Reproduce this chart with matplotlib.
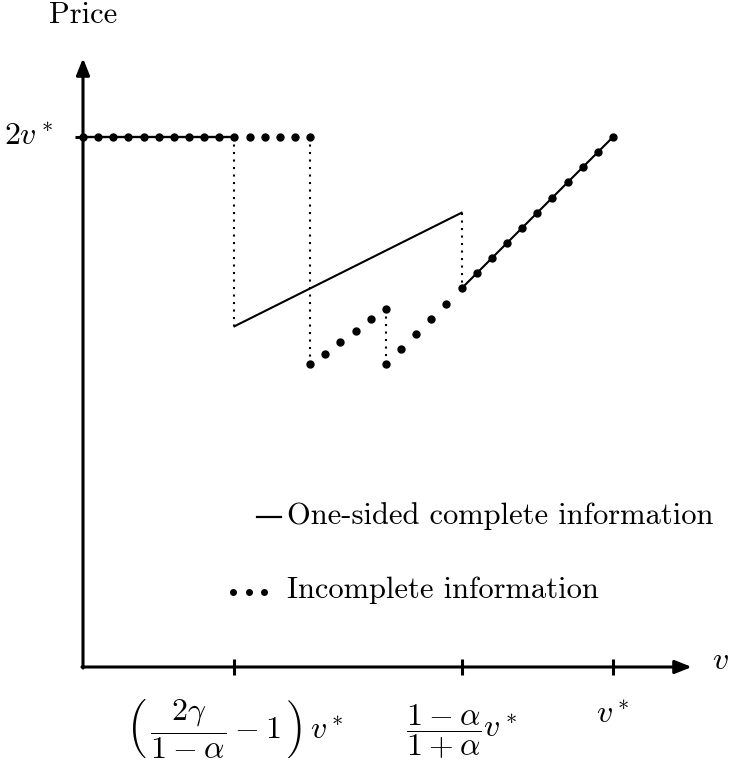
import matplotlib
matplotlib.use("Agg")
import matplotlib.pyplot as plt

plt.rcParams['font.family'] = ['serif']
plt.rcParams['font.serif'] = ['cmr10', 'DejaVu Serif']
plt.rcParams['mathtext.fontset'] = 'cm'
plt.rcParams['axes.unicode_minus'] = False

# grid units: v* = 35 steps, price 2v* = 35 steps
# incomplete information (dots)
inc_flat_x = [0, 1, 2, 3, 4, 5, 6, 7, 8, 9, 10, 11, 12, 13, 14, 15]
inc_flat_y = [35, 35, 35, 35, 35, 35, 35, 35, 35, 35, 35, 35, 35, 35, 35, 35]
inc_mid_x = [15, 16, 17, 18, 19, 20]
inc_mid_y = [20.0, 20.7, 21.45, 22.2, 22.95, 23.65]
inc_up_x = [20, 21, 22, 23, 24, 25, 26, 27, 28, 29, 30, 31, 32, 33, 34, 35]
inc_up_y = [20, 21, 22, 23, 24, 25, 26, 27, 28, 29, 30, 31, 32, 33, 34, 35]

# one-sided complete information (solid)
comp_flat_x = [0, 10]
comp_flat_y = [35, 35]
comp_mid_x = [10, 25]
comp_mid_y = [22.5, 30]
comp_up_x = [25, 35]
comp_up_y = [25, 35]

# dotted jumps: x, y_top, y_bottom
jump_x = [10, 15, 20, 25]
jump_top = [35, 35, 23.65, 30]
jump_bot = [22.5, 20.0, 20.0, 25]

tick_x = [10, 25, 35]
tick_labels = [r'$\left(\,\dfrac{2\gamma}{1\:-\:\alpha}\:-\:1\,\right)\,v^*$',
               r'$\dfrac{1\:-\:\alpha}{1\:+\:\alpha}v^*$',
               r'$v^*$']
tick_label_y = [-2.0, -2.35, -2.3]
ytick_val = 35
ytick_label = r'$2v^*$'
axis_end = 40.2

s = 530 / 35.0  # pixels per unit
fig = plt.figure(figsize=(7.33, 7.78), dpi=100)
ax = fig.add_axes([0, 0, 1, 1])
ax.set_xlim(-83 / s, (733 - 83) / s)
ax.set_ylim(-(778 - 667) / s, 667 / s)
ax.axis('off')

fs = 22

# axes with arrows
arr = dict(arrowstyle='-|>,head_length=0.5,head_width=0.2', lw=2.2, color='k',
           shrinkA=0, shrinkB=0, mutation_scale=20)
ax.annotate('', xy=(axis_end, 0), xytext=(-0.07, 0), arrowprops=arr)
ax.annotate('', xy=(0, axis_end), xytext=(0, -0.07), arrowprops=arr)

for xt, lab, ly in zip(tick_x, tick_labels, tick_label_y):
    ax.plot([xt, xt], [-0.5, 0.5], color='k', lw=2.2, solid_capstyle='butt')
    ax.text(xt, ly, lab, ha='center', va='top', fontsize=23)
ax.plot([-0.55, 0], [ytick_val, ytick_val], color='k', lw=2.2, solid_capstyle='butt')
ax.text(-1.95, ytick_val, ytick_label, ha='right', va='center', fontsize=23)

ax.text(0, 43.05, 'Price', ha='center', va='center', fontsize=fs)
ax.text(42.1, 0.35, r'$v$', ha='center', va='center', fontsize=23)

# dotted vertical jumps
for xj, yt, yb in zip(jump_x, jump_top, jump_bot):
    ax.plot([xj, xj], [yt, yb], color='k', lw=1.5, linestyle=(0, (1, 2.6)),
            dash_capstyle='butt')

# complete information
ax.plot(comp_flat_x, comp_flat_y, color='k', lw=1.7)
ax.plot(comp_mid_x, comp_mid_y, color='k', lw=1.5)
ax.plot(comp_up_x, comp_up_y, color='k', lw=1.5)

# incomplete information
for xs, ys in [(inc_flat_x, inc_flat_y), (inc_mid_x, inc_mid_y), (inc_up_x, inc_up_y)]:
    ax.plot(xs, ys, linestyle='none', marker='o', ms=5, color='k')

# legend
ax.plot([11.5, 13.1], [9.9, 9.9], color='k', lw=1.6)
ax.text(13.5, 10.0, 'One-sided complete information', ha='left', va='center', fontsize=fs)
ax.plot([9.91, 10.94, 11.95], [4.95, 4.95, 4.95], linestyle='none', marker='o', ms=4, color='k')
ax.text(13.45, 5.06, 'Incomplete information', ha='left', va='center', fontsize=fs)

fig.savefig('out.png', dpi=100)
